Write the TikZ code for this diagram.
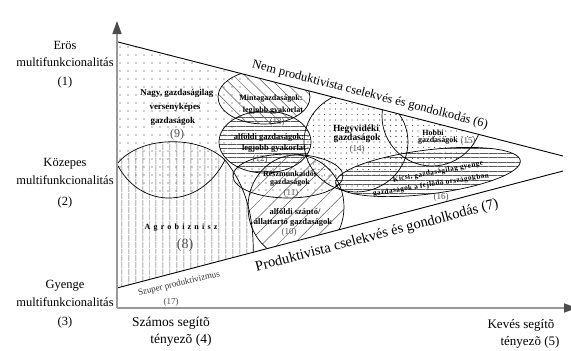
\documentclass[tikz,border=0pt]{standalone}
\usepackage{fontspec}
\setmainfont{Liberation Serif}
\newfontfamily\agrofont[LetterSpace=40]{Liberation Serif}
\newfontfamily\kicsifont[LetterSpace=6]{Liberation Serif}
\usetikzlibrary{patterns.meta,arrows.meta}
\begin{document}
\begin{tikzpicture}[x=1pt,y=-1pt,
  outl/.style={draw=black,line width=0.7pt},
  edgeline/.style={draw=black,line width=0.9pt},
  axisline/.style={draw=black!40,line width=1.6pt},
  lbl/.style={font=\bfseries\fontsize{8}{9}\selectfont,inner sep=0pt},
  numlbl/.style={font=\fontsize{9}{10}\selectfont,text=black!70,inner sep=0pt},
  side/.style={font=\fontsize{12.5}{14}\selectfont,inner sep=0pt},
  bottomlbl/.style={font=\fontsize{13.5}{15}\selectfont,inner sep=0pt},
  dotsA/.style={pattern={Dots[distance=8pt,radius=0.7pt]},pattern color=black!80},
  dotsB/.style={pattern={Dots[distance=5.5pt,radius=0.6pt]},pattern color=black!70},
  dotsC/.style={pattern={Dots[distance=7pt,radius=0.65pt]},pattern color=black!80},
  vlines/.style={pattern={Lines[angle=90,distance=6.5pt,line width=0.5pt]},pattern color=black!65},
  hlines/.style={pattern={Lines[angle=0,distance=4.5pt,line width=0.5pt]},pattern color=black!65},
  nwlines/.style={pattern={Lines[angle=-45,distance=8pt,line width=0.5pt]},pattern color=black!65},
  nelines/.style={pattern={Lines[angle=45,distance=11pt,line width=0.5pt]},pattern color=black!65}
]
\useasboundingbox (0,0) rectangle (571,351);

% triangle corners
\coordinate (T1) at (118,42);
\coordinate (T2) at (563,156);
\coordinate (T3) at (563,171);
\coordinate (T4) at (117,288);

% axes
\coordinate (O) at (117,308);
\coordinate (Ytop) at (117,21);
\coordinate (Xend) at (577,308);

\begin{scope}
\path[clip] (T1) -- (T2) -- (T3) -- (T4) -- cycle;
% (9) dotted region
\fill[dotsA] (118,42) -- (250,76) .. controls (240,110) and (235,140) .. (225,160)
   .. controls (200,210) and (140,210) .. (117,164) -- cycle;
% (8) agrobiznisz
\fill[vlines] (117,164) .. controls (140,135) and (200,135) .. (225,160)
   .. controls (245,185) and (255,215) .. (253,262) -- (117,300) -- cycle;
% (14)
\fill[dotsB] (356,142) ellipse [x radius=52, y radius=50];
% (15)
\fill[dotsB] (432,116) circle [radius=50];
% (13)
\fill[nwlines] (264,97) ellipse [x radius=46, y radius=27];
% (12)
\fill[hlines] (265,142) ellipse [x radius=46, y radius=31];
% (10)
\fill[nelines] (296,207) ellipse [x radius=48, y radius=52];
% (11)
\fill[dotsC] (288,176) ellipse [x radius=55, y radius=22];
% (16)
\fill[hlines,rotate around={7:(428,172)}] (428,172) ellipse [x radius=93, y radius=22];

% outlines
\draw[outl] (117,164) .. controls (140,210) and (200,210) .. (225,160);
\draw[outl] (117,164) .. controls (140,135) and (200,135) .. (225,160)
   .. controls (245,185) and (255,215) .. (253,262);
\draw[outl] (356,142) ellipse [x radius=52, y radius=50];
\draw[outl] (432,116) circle [radius=50];
\draw[outl] (264,97) ellipse [x radius=46, y radius=27];
\draw[outl] (265,142) ellipse [x radius=46, y radius=31];
\draw[outl] (296,207) ellipse [x radius=48, y radius=52];
\draw[outl] (288,176) ellipse [x radius=55, y radius=22];
\draw[outl,rotate around={7:(428,172)}] (428,172) ellipse [x radius=93, y radius=22];
\end{scope}

% wedge lines
\draw[edgeline] (T1) -- (T2);
\draw[edgeline] (T4) -- (T3);

% axes
\draw[axisline,-{Triangle[length=13pt,width=9pt,color=black!70]}] (O) -- (Ytop);
\draw[axisline,-{Triangle[length=13pt,width=9pt,color=black!70]}] (O) -- (Xend);

% left labels
\node[side] (e1) at (65,45) {Erös};
\node[side] (e2) at (65,62) {multifunkcionalitás};
\node[side] (e3) at (65,82) {(1)};
\node[side] (k1) at (65,164) {Közepes};
\node[side] (k2) at (65,180) {multifunkcionalitás};
\node[side] (k3) at (65,202) {(2)};
\node[side] (g1) at (65,286) {Gyenge};
\node[side] (g2) at (65,302) {multifunkcionalitás};
\node[side] (g3) at (65,322) {(3)};

% bottom labels
\node[bottomlbl] (s1) at (171,323) {Számos segítõ};
\node[bottomlbl] (s2) at (181,340) {tényezõ (4)};
\node[bottomlbl,font=\fontsize{13}{15}\selectfont] (kv1) at (521,325) {Kevés segítõ};
\node[bottomlbl,font=\fontsize{13}{15}\selectfont] (kv2) at (530,342) {tényezõ (5)};

% wedge labels
\node[inner sep=0pt,font=\fontsize{12.5}{14}\selectfont,rotate=-14.4] (nem) at (370,95) {Nem produktivista cselekvés és gondolkodás (6)};
\node[inner sep=0pt,font=\fontsize{14.5}{16}\selectfont,rotate=14.7] (prod) at (377,236) {Produktivista cselekvés és gondolkodás (7)};
\node[inner sep=0pt,font=\fontsize{9}{10}\selectfont,text=black!80,rotate=13.5] (szuper) at (179,284) {Szuper produktivizmus};
\node[numlbl] (n17) at (171,302) {(17)};

% (9)
\node[lbl,font=\bfseries\fontsize{9}{10}\selectfont] (l9a) at (177,93) {Nagy, gazdaságilag};
\node[lbl,font=\bfseries\fontsize{9}{10}\selectfont] (l9b) at (175,107) {versenyképes};
\node[lbl,font=\bfseries\fontsize{9}{10}\selectfont] (l9c) at (173,121) {gazdaságok};
\node[numlbl,font=\fontsize{12}{13}\selectfont] (n9) at (177,135) {(9)};
% (8)
\node[lbl,font=\agrofont\bfseries\fontsize{8}{9}\selectfont] (l8) at (181,228) {Agrobiznisz};
\node[numlbl,font=\fontsize{14}{15}\selectfont] (n8) at (185,245) {(8)};
% (13)
\node[lbl] (l13a) at (271,99) {Mintagazdaságok:};
\node[lbl] (l13b) at (273,111) {legjobb gyakorlat};
\node[numlbl] (n13) at (277,122) {(13)};
% (12)
\node[lbl,font=\bfseries\fontsize{8.5}{9}\selectfont] (l12a) at (269,137) {alföldi gazdaságok:};
\node[lbl,font=\bfseries\fontsize{8.5}{9}\selectfont] (l12b) at (274,148) {legjobb gyakorlat};
\node[numlbl] (n12) at (260,159) {(12)};
% (11)
\node[lbl] (l11a) at (290,174) {Részmunkaidõs};
\node[lbl] (l11b) at (290,183) {gazdaságok};
\node[numlbl] (n11) at (291,193) {(11)};
% (10)
\node[lbl,font=\bfseries\fontsize{8.5}{9}\selectfont] (l10a) at (295,212) {alföldi szántó/};
\node[lbl,font=\bfseries\fontsize{8.5}{9}\selectfont] (l10b) at (293,222) {állattartó gazdaságok};
\node[numlbl] (n10) at (289,232) {(10)};
% (14)
\node[lbl,font=\bfseries\fontsize{9.5}{10}\selectfont] (l14a) at (356,129) {Hegyvidéki};
\node[lbl,font=\bfseries\fontsize{9.5}{10}\selectfont] (l14b) at (357,138) {gazdaságok};
\node[numlbl] (n14) at (357,149) {(14)};
% (15)
\node[lbl] (l15a) at (433,133) {Hobbi};
\node[lbl] (l15b) at (438,141) {gazdaságok};
\node[numlbl] (n15) at (468,141) {(15)};
% (16)
\node[lbl,font=\kicsifont\bfseries\fontsize{7.2}{8}\selectfont,rotate=10.5] (l16a) at (438,172) {Kicsi, gazdaságilag gyenge};
\node[lbl,font=\kicsifont\bfseries\fontsize{7.2}{8}\selectfont,rotate=9] (l16b) at (431,185) {gazdaságok a fejlõdõ országokban};
\node[numlbl] (n16) at (441,197) {(16)};
\end{tikzpicture}
\end{document}
